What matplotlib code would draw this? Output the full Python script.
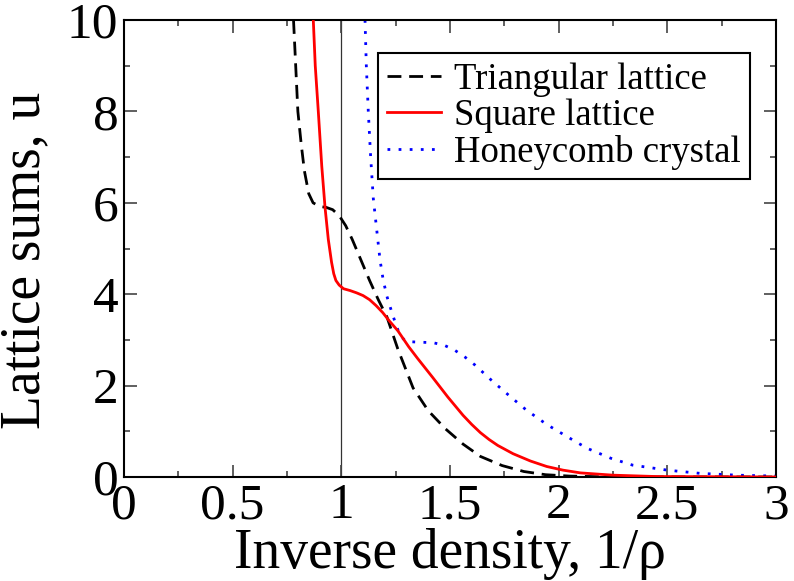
import matplotlib
matplotlib.use("Agg")
import matplotlib.pyplot as plt
from matplotlib.ticker import MultipleLocator

plt.rcParams['font.family'] = ['Liberation Serif', 'DejaVu Serif']

# Triangular lattice (black dashed)
x_tri = [0.78, 0.79, 0.80, 0.815, 0.83, 0.85, 0.87, 0.90, 0.93, 0.96, 0.99, 1.02, 1.05,
         1.09, 1.13, 1.17, 1.21, 1.26, 1.33, 1.40, 1.48, 1.56, 1.64, 1.74, 1.84, 1.94,
         2.05, 2.2, 2.5, 3.0]
y_tri = [10.0, 9.0, 8.0, 7.3, 6.7, 6.2, 6.0, 5.92, 5.9, 5.85, 5.72, 5.5, 5.2,
         4.75, 4.3, 3.88, 3.5, 2.8, 1.95, 1.45, 1.05, 0.72, 0.45, 0.25, 0.12, 0.05,
         0.02, 0.005, 0.0, 0.0]

# Square lattice (red solid)
x_sq = [0.871, 0.88, 0.894, 0.91, 0.925, 0.94, 0.955, 0.965, 0.975, 0.99, 1.01, 1.04,
        1.07, 1.10, 1.13, 1.16, 1.19, 1.22, 1.26, 1.31, 1.35, 1.42, 1.49, 1.56, 1.60,
        1.64, 1.68, 1.72, 1.79, 1.87, 1.945, 2.02, 2.1, 2.25, 2.45, 3.0]
y_sq = [10.0, 9.0, 8.0, 6.8, 5.9, 5.2, 4.7, 4.45, 4.3, 4.2, 4.12, 4.08,
        4.03, 3.97, 3.88, 3.75, 3.6, 3.42, 3.2, 2.85, 2.6, 2.18, 1.75, 1.35, 1.15,
        0.97, 0.82, 0.69, 0.51, 0.35, 0.23, 0.15, 0.09, 0.04, 0.01, 0.0]

# Honeycomb crystal (blue dotted)
x_hc = [1.109, 1.115, 1.124, 1.135, 1.147, 1.163, 1.178, 1.193, 1.21, 1.224, 1.25,
        1.27, 1.29, 1.316, 1.36, 1.42, 1.47, 1.52, 1.57, 1.615, 1.69, 1.77, 1.85,
        1.945, 2.04, 2.13, 2.24, 2.34, 2.5, 2.65, 2.82, 3.0]
y_hc = [10.0, 9.0, 8.0, 7.0, 6.1, 5.4, 4.75, 4.3, 3.95, 3.73, 3.35,
        3.1, 3.0, 2.96, 2.95, 2.94, 2.89, 2.78, 2.62, 2.45, 2.12, 1.79, 1.47,
        1.15, 0.88, 0.63, 0.41, 0.26, 0.15, 0.08, 0.04, 0.02]

x_ticks = [0, 0.5, 1, 1.5, 2, 2.5, 3]
x_ticklabels = ['0', '0.5', '1', '1.5', '2', '2.5', '3']
y_ticks = [0, 2, 4, 6, 8, 10]
y_ticklabels = ['0', '2', '4', '6', '8', '10']

fig = plt.figure(figsize=(7.94, 5.81), dpi=100)
ax = fig.add_axes([124/794, 1 - 477/581, (776-124)/794, (477-20)/581])

ax.axvline(1.0, color='#333333', lw=0.9, zorder=1)
ax.plot(x_tri, y_tri, color='black', lw=2.0, linestyle=(0, (5, 2.8)), label='Triangular lattice', zorder=3)
ax.plot(x_sq, y_sq, color='#ff0000', lw=2.0, linestyle='-', label='Square lattice', zorder=4)
ax.plot(x_hc, y_hc, color='#0000ff', lw=2.0, linestyle=(0, (1, 3)), label='Honeycomb crystal', zorder=2)

ax.set_xlim(0, 3)
ax.set_ylim(0, 10)
ax.set_xticks(x_ticks)
ax.set_xticklabels(x_ticklabels)
ax.set_yticks(y_ticks)
ax.set_yticklabels(y_ticklabels)
ax.xaxis.set_minor_locator(MultipleLocator(0.25))
ax.yaxis.set_minor_locator(MultipleLocator(1))
ax.tick_params(which='both', direction='in', top=True, right=True, width=1.2, color='#444444')
ax.tick_params(which='major', length=9, labelsize=37)
ax.tick_params(which='minor', length=4.5)
ax.tick_params(axis='x', which='major', pad=4)
ax.tick_params(axis='y', which='major', pad=4)
for s in ax.spines.values():
    s.set_linewidth(1.5)

ax.set_xlabel('Inverse density, 1/ρ', fontsize=40, labelpad=-1)
ax.set_ylabel('Lattice sums, u', fontsize=40)
ax.yaxis.set_label_coords(-0.112, 0.475)

leg = ax.legend(loc='upper right', bbox_to_anchor=(0.96, 0.928), borderaxespad=0,
                fontsize=26.5, fancybox=False, framealpha=1, edgecolor='black',
                handlelength=1.45, handletextpad=0.36, labelspacing=0.05, borderpad=0.25)
leg.get_frame().set_linewidth(1.5)

fig.savefig('out.png', dpi=100)
